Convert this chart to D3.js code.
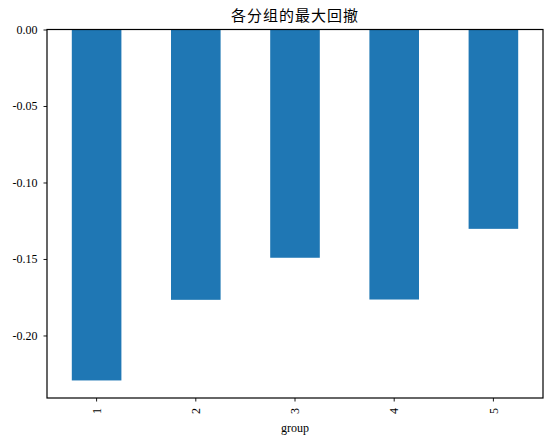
<!DOCTYPE html>
<html>
<head>
<meta charset="utf-8">
<script src="https://cdn.jsdelivr.net/npm/d3@7"></script>
<style>
  body { margin: 0; background: #fff; }
  text { font-family: "Liberation Serif", "Noto Sans CJK SC", serif; fill: #000; }
</style>
</head>
<body>
<div id="chart"></div>
<script>
const groups = ["1", "2", "3", "4", "5"];
const drawdowns = [-0.2294, -0.1767, -0.1492, -0.1765, -0.1303];
const yTicks = [0, -0.05, -0.10, -0.15, -0.20];
const title = "各分组的最大回撤";
const xTitle = "group";

function renderChart() {
    const width = 552;
    const height = 444;
    const margin = { top: 29.5, right: 9, bottom: 46, left: 47 };

    const svg = d3.select("#chart").append("svg")
        .attr("width", width)
        .attr("height", height);

    const x = d3.scaleBand()
        .domain(groups)
        .range([margin.left, width - margin.right])
        .paddingInner(0)
        .paddingOuter(0);

    // matplotlib style: 5% margin below the lowest bar, none above 0
    const yMin = d3.min(drawdowns) * 1.05;
    const y = d3.scaleLinear()
        .domain([yMin, 0])
        .range([height - margin.bottom, margin.top]);

    const barW = x.bandwidth() * 0.5;

    svg.append("g")
        .selectAll("rect")
        .data(groups)
        .join("rect")
        .attr("x", (d, i) => x(d) + (x.bandwidth() - barW) / 2)
        .attr("y", y(0))
        .attr("width", barW)
        .attr("height", (d, i) => y(drawdowns[i]) - y(0))
        .attr("fill", "#1f77b4");

    // y axis
    const yAxis = svg.append("g")
        .attr("transform", `translate(${margin.left},0)`)
        .call(d3.axisLeft(y).tickValues(yTicks).tickSize(3.5).tickPadding(6)
            .tickFormat(d => d3.format(".2f")(d).replace("−", "-")));
    yAxis.select(".domain").remove();
    yAxis.selectAll("line").attr("stroke", "#000").attr("stroke-width", 0.9);
    yAxis.selectAll("text").style("font-size", "12px").attr("fill", "#333");

    // x axis
    const xAxis = svg.append("g")
        .attr("transform", `translate(0,${height - margin.bottom})`)
        .call(d3.axisBottom(x).tickSize(3.5).tickPadding(0));
    xAxis.select(".domain").remove();
    xAxis.selectAll("line").attr("stroke", "#000").attr("stroke-width", 0.9);
    xAxis.selectAll("text")
        .style("font-size", "12px")
        .attr("fill", "#333")
        .attr("text-anchor", "end")
        .attr("transform", "translate(0,10) rotate(-90)")
        .attr("x", 0)
        .attr("y", 0)
        .attr("dy", "0.35em");

    // frame
    svg.append("rect")
        .attr("x", margin.left)
        .attr("y", margin.top)
        .attr("width", width - margin.left - margin.right)
        .attr("height", height - margin.top - margin.bottom)
        .attr("fill", "none")
        .attr("stroke", "#000")
        .attr("stroke-width", 1.2);

    svg.append("text")
        .attr("x", (margin.left + width - margin.right) / 2)
        .attr("y", 21)
        .attr("text-anchor", "middle")
        .style("font-size", "15px")
        .style("letter-spacing", "1px")
        .attr("fill", "#222")
        .text(title);

    svg.append("text")
        .attr("x", (margin.left + width - margin.right) / 2)
        .attr("y", 432)
        .attr("text-anchor", "middle")
        .style("font-size", "12px")
        .attr("fill", "#333")
        .text(xTitle);
}

document.addEventListener("DOMContentLoaded", function () {
    renderChart();
});
</script>
</body>
</html>
